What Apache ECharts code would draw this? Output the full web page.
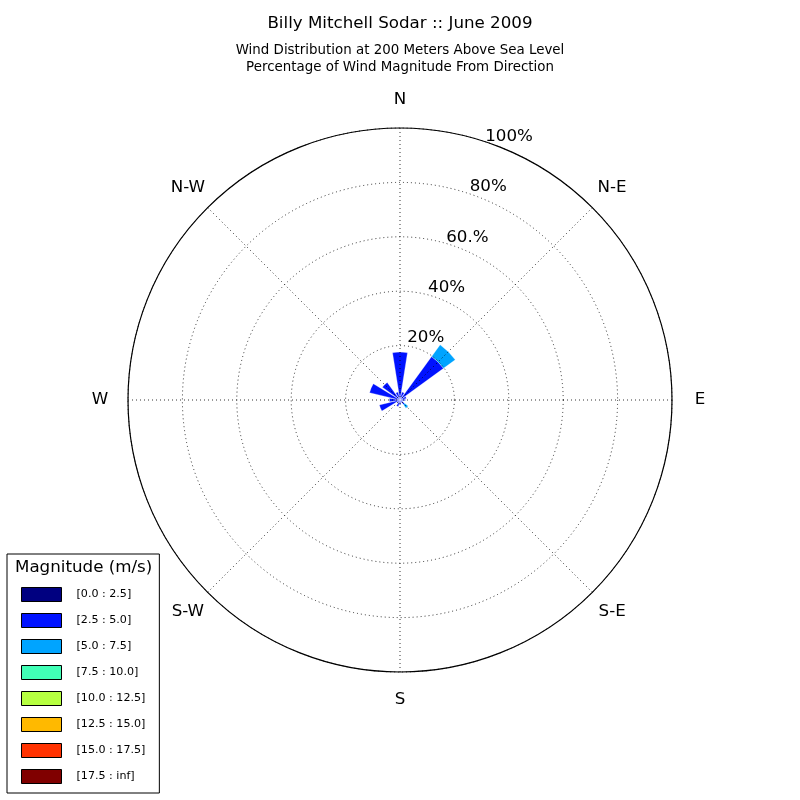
<!DOCTYPE html>
<html>
<head>
<meta charset="utf-8">
<script src="https://cdn.jsdelivr.net/npm/echarts@6/dist/echarts.min.js"></script>
<style>html,body{margin:0;padding:0;background:#fff}#c{width:800px;height:800px}</style>
</head>
<body>
<div id="c"></div>
<script>
// ---- data ----
var directions = ['N','NNE','NE','ENE','E','ESE','SE','SSE','S','SSW','SW','WSW','W','WNW','NW','NNW'];
var binNames = ['[0.0 : 2.5]','[2.5 : 5.0]','[5.0 : 7.5]','[7.5 : 10.0]','[10.0 : 12.5]','[12.5 : 15.0]','[15.0 : 17.5]','[17.5 : inf]'];
var bin0 = [0.6, 0.5, 0.6, 0.4, 0.4, 0.3, 0.3, 0.3, 0.3, 0.3, 0.3, 0.4, 0.4, 0.5, 0.5, 0.5];
var bin1 = [17.0, 2.5, 19.2, 2.0, 1.6, 0.8, 1.8, 0.8, 1.5, 2.2, 1.0, 7.4, 3.5, 11.0, 7.5, 2.5];
var bin2 = [0, 0, 5.3, 0, 0, 0, 1.6, 0, 0, 0, 0, 0, 0, 0, 0, 0];
var bin3 = [0,0,0,0,0,0,0,0,0,0,0,0,0,0,0,0];
var bin4 = [0,0,0,0,0,0,0,0,0,0,0,0,0,0,0,0];
var bin5 = [0,0,0,0,0,0,0,0,0,0,0,0,0,0,0,0];
var bin6 = [0,0,0,0,0,0,0,0,0,0,0,0,0,0,0,0];
var bin7 = [0,0,0,0,0,0,0,0,0,0,0,0,0,0,0,0];
var compassAngles = [0, 45, 90, 135, 180, 225, 270, 315];
var compassLabels = ['N','N-E','E','S-E','S','S-W','W','N-W'];
var radialTicks = [20, 40, 60, 80, 100];
var radialLabels = ['20%','40%','60.%','80%','100%'];
var binColors = ['#000080','#0012ff','#00a4ff','#41ffb6','#b6ff41','#ffb900','#ff3200','#800000'];

var bins = [bin0, bin1, bin2, bin3, bin4, bin5, bin6, bin7];
var FONT = 'DejaVu Sans';
var R = 272;
var labelOffset = 13;
var k = labelOffset / (R / 100);
var compassR = 300;

var series = bins.map(function (d, i) {
  return {
    name: binNames[i],
    type: 'bar',
    coordinateSystem: 'polar',
    polarIndex: 0,
    stack: 'wind',
    barWidth: '80%',
    data: d.map(function (v) { return v > 0 ? v : null; }),
    itemStyle: { color: binColors[i], borderColor: '#ffffff', borderWidth: 0.3 },
    emphasis: { disabled: true },
    animation: false,
    z: 2
  };
});

// compass direction labels, placed through polar #3 (radius 100 = just outside the rim)
series.push({
  name: 'compass',
  type: 'scatter',
  coordinateSystem: 'polar',
  polarIndex: 3,
  symbolSize: 2,
  itemStyle: { color: 'rgba(255,255,255,0)' },
  silent: true,
  z: 10,
  data: compassAngles.map(function (a, i) { return { value: [100, a], name: compassLabels[i] }; }),
  label: {
    show: true, position: 'inside', formatter: '{b}', offset: [0, 2],
    fontFamily: FONT, fontSize: 16.7, color: '#000000', opacity: 1,
    align: 'center', verticalAlign: 'middle'
  },
  labelLayout: { hideOverlap: false }
});

var chart = echarts.init(document.getElementById('c'), null, { renderer: 'canvas' });
chart.setOption({
  animation: false,
  backgroundColor: '#ffffff',
  textStyle: { fontFamily: FONT },
  title: [
    {
      text: 'Billy Mitchell Sodar :: June 2009',
      subtext: 'Wind Distribution at 200 Meters Above Sea Level\nPercentage of Wind Magnitude From Direction',
      left: 'center', top: 10, itemGap: 10,
      textStyle: { fontFamily: FONT, fontSize: 16.7, fontWeight: 'normal', color: '#000' },
      subtextStyle: { fontFamily: FONT, fontSize: 13.4, lineHeight: 17, color: '#000', align: 'center' }
    },
    {
      text: 'Magnitude (m/s)',
      left: 15, top: 559, padding: 0,
      textStyle: { fontFamily: FONT, fontSize: 16.7, fontWeight: 'normal', color: '#000' },
      z: 10
    }
  ],
  polar: [
    { center: [400, 400], radius: [0, R] },
    { center: [400, 400], radius: [0, R] },
    { center: [400, 400], radius: [0, R + labelOffset] },
    { center: [400, 400], radius: [0, compassR] }
  ],
  angleAxis: [
    {
      polarIndex: 0, type: 'category', data: directions, startAngle: 90 + 360 / directions.length / 2,
      clockwise: true, boundaryGap: true,
      axisLine: { show: false }, axisTick: { show: false }, axisLabel: { show: false }, splitLine: { show: false }
    },
    {
      polarIndex: 1, type: 'value', min: 0, max: 360, interval: 45, startAngle: 90, clockwise: true,
      axisLine: { show: true, lineStyle: { color: '#000', width: 1.2 } },
      axisTick: { show: false },
      axisLabel: { show: false },
      splitLine: { show: true, lineStyle: { color: '#000', width: 0.8, type: [1, 3] } },
      z: 10
    },
    {
      polarIndex: 2, type: 'value', min: 0, max: 360, startAngle: 90 - 22.5, clockwise: true, show: false
    },
    {
      polarIndex: 3, type: 'value', min: 0, max: 360, startAngle: 90, clockwise: true,
      axisLine: { show: false }, axisTick: { show: false }, axisLabel: { show: false }, splitLine: { show: false }
    }
  ],
  radiusAxis: [
    {
      polarIndex: 0, type: 'value', min: 0, max: 100,
      axisLine: { show: false }, axisTick: { show: false }, axisLabel: { show: false }, splitLine: { show: false }
    },
    {
      polarIndex: 1, type: 'value', min: 0, max: 100, interval: 20,
      axisLine: { show: false }, axisTick: { show: false }, axisLabel: { show: false },
      splitLine: { show: true, lineStyle: { color: '#000', width: 0.8, type: [1, 3] } },
      z: 10
    },
    {
      polarIndex: 2, type: 'value', min: -k, max: 100,
      axisLine: { show: false }, axisTick: { show: false }, splitLine: { show: false },
      axisLabel: {
        show: true, margin: 0, align: 'center', verticalAlign: 'middle',
        customValues: radialTicks,
        fontFamily: FONT, fontSize: 16.7, color: '#000',
        formatter: function (v) { var i = radialTicks.indexOf(Math.round(v)); return i >= 0 ? radialLabels[i] : ''; }
      },
      z: 10
    },
    {
      polarIndex: 3, type: 'value', min: 0, max: 100,
      axisLine: { show: false }, axisTick: { show: false }, axisLabel: { show: false }, splitLine: { show: false }
    }
  ],
  legend: {
    orient: 'vertical',
    left: 7, top: 554,
    padding: [33, 14, 9, 14],
    itemWidth: 40, itemHeight: 14, itemGap: 11,
    icon: 'rect',
    backgroundColor: '#ffffff',
    borderColor: '#000', borderWidth: 1,
    selectedMode: false,
    itemStyle: { borderColor: '#000', borderWidth: 1 },
    textStyle: { fontFamily: FONT, fontSize: 11.1, color: '#000', padding: [0, 0, 0, 10] },
    data: binNames
  },
  series: series
});
</script>
</body>
</html>
